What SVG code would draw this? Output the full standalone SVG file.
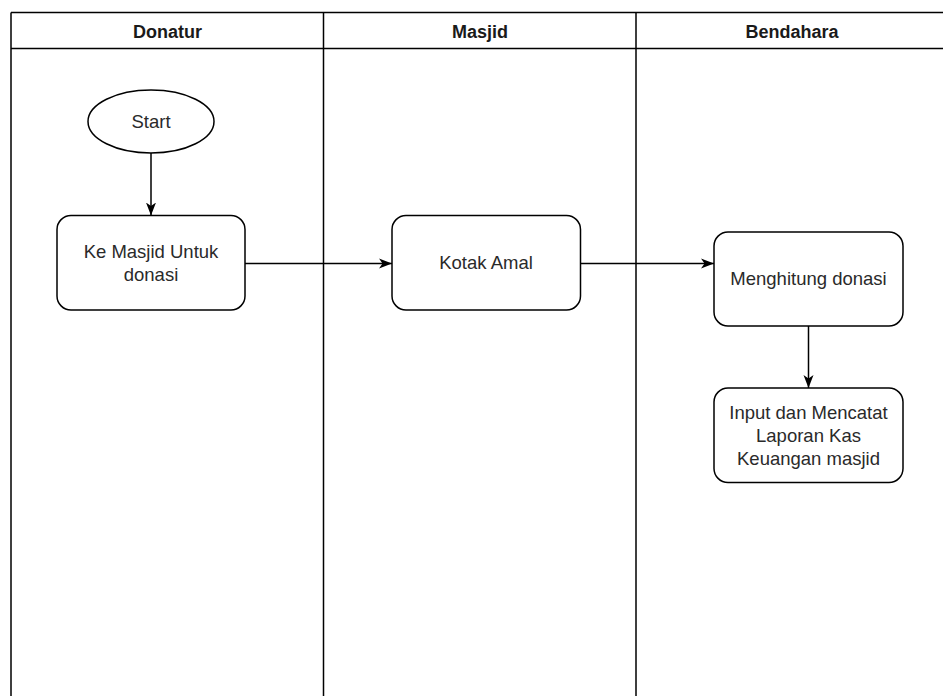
<svg xmlns="http://www.w3.org/2000/svg" width="943" height="696" viewBox="0 0 943 696">
  <style>
    .lane { fill: none; stroke: #000; stroke-width: 1.5; }
    .hdr { font-family: "Liberation Sans", Arial, sans-serif; font-size: 18px; font-weight: bold; fill: #1a1a1a; text-anchor: middle; }
    .node { fill: #fff; stroke: #000; stroke-width: 1.5; }
    .lbl { font-family: "Liberation Sans", Arial, sans-serif; font-size: 18.5px; fill: #2a2a2a; text-anchor: middle; }
    .edge { fill: none; stroke: #000; stroke-width: 1.5; marker-end: url(#arrow); }
  </style>
  <defs>
    <marker id="arrow" markerUnits="userSpaceOnUse" markerWidth="14" markerHeight="12" refX="13" refY="5.5" orient="auto">
      <path d="M0,0.5 L13,5.5 L0,10.5 L3.5,5.5 Z" fill="#000"/>
    </marker>
  </defs>
  <rect width="943" height="696" fill="#fff"/>

  <g id="swimlanes">
    <path class="lane" d="M11,12.5 H948 M11,48.5 H948 M11,12.5 V700 M323.5,12.5 V700 M636,12.5 V700"/>
    <text class="hdr" x="167.5" y="37.5">Donatur</text>
    <text class="hdr" x="480" y="37.5">Masjid</text>
    <text class="hdr" x="792" y="37.5">Bendahara</text>
  </g>

  <g id="start">
    <ellipse class="node" cx="151" cy="121.5" rx="63" ry="31.5"/>
    <text class="lbl" x="151" y="128">Start</text>
  </g>

  <g id="ke-masjid">
    <rect class="node" x="57" y="215.5" width="188" height="94.5" rx="14" ry="14"/>
    <text class="lbl" x="151" y="258">Ke Masjid Untuk</text>
    <text class="lbl" x="151" y="281">donasi</text>
  </g>

  <g id="kotak-amal">
    <rect class="node" x="392" y="215.5" width="188.5" height="94.5" rx="14" ry="14"/>
    <text class="lbl" x="486" y="269">Kotak Amal</text>
  </g>

  <g id="menghitung">
    <rect class="node" x="714" y="232" width="189" height="94" rx="14" ry="14"/>
    <text class="lbl" x="808.5" y="285">Menghitung donasi</text>
  </g>

  <g id="input-laporan">
    <rect class="node" x="714" y="388" width="189" height="94.5" rx="14" ry="14"/>
    <text class="lbl" x="808.5" y="419">Input dan Mencatat</text>
    <text class="lbl" x="808.5" y="442">Laporan Kas</text>
    <text class="lbl" x="808.5" y="465">Keuangan masjid</text>
  </g>

  <g id="connectors">
    <path class="edge" d="M151,153 V215.5"/>
    <path class="edge" d="M245,263.5 H392"/>
    <path class="edge" d="M580.5,263.5 H714"/>
    <path class="edge" d="M808.5,326 V388"/>
  </g>
</svg>
